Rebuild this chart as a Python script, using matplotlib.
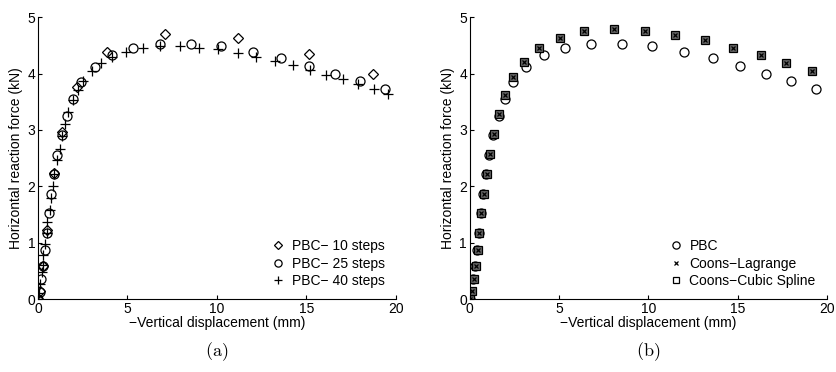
import matplotlib
matplotlib.use("Agg")
import matplotlib.pyplot as plt

plt.rcParams["font.family"] = ["Liberation Sans", "DejaVu Sans"]
plt.rcParams["mathtext.fontset"] = "cm"

# (a) PBC with different step counts
pbc10_x = [0, 0.12, 0.3, 0.5, 0.88, 1.32, 2.18, 3.86, 7.08, 11.18, 15.15, 18.73]
pbc10_y = [0, 0.15, 0.59, 1.22, 2.23, 2.96, 3.76, 4.39, 4.70, 4.63, 4.35, 3.99]

pbc25_x = [0, 0.09, 0.19, 0.28, 0.39, 0.5, 0.62, 0.75, 0.88, 1.08, 1.32, 1.64, 1.98,
           2.42, 3.17, 4.14, 5.31, 6.8, 8.54, 10.21, 12.0, 13.6, 15.15, 16.6, 18.0, 19.4]
pbc25_y = [0, 0.13, 0.35, 0.59, 0.87, 1.18, 1.52, 1.86, 2.21, 2.56, 2.91, 3.24, 3.55,
           3.85, 4.11, 4.32, 4.46, 4.53, 4.53, 4.48, 4.38, 4.27, 4.14, 3.99, 3.86, 3.72]

pbc40_x = [0, 0.05, 0.12, 0.2, 0.28, 0.3, 0.41, 0.5, 0.52, 0.65, 0.71, 0.84, 0.9, 1.06,
           1.21, 1.32, 1.49, 1.68, 1.96, 2.24, 2.52, 3.02, 3.54, 4.16, 4.94, 5.87, 6.8,
           7.92, 9.0, 10.07, 11.18, 12.2, 13.23, 14.26, 15.19, 16.12, 17.05, 17.9, 18.77, 19.57]
pbc40_y = [0, 0.1, 0.27, 0.48, 0.6, 0.78, 0.97, 1.17, 1.36, 1.58, 1.79, 2.01, 2.22, 2.47,
           2.66, 2.9, 3.11, 3.31, 3.53, 3.71, 3.86, 4.04, 4.18, 4.29, 4.39, 4.45, 4.48,
           4.48, 4.46, 4.43, 4.37, 4.30, 4.23, 4.15, 4.07, 3.98, 3.90, 3.81, 3.72, 3.63]

# (b) PBC vs Coons
pbc_x = pbc25_x
pbc_y = pbc25_y
coons_x = [0, 0.11, 0.24, 0.34, 0.43, 0.52, 0.63, 0.78, 0.95, 1.12, 1.36, 1.62, 1.96,
           2.41, 3.04, 3.88, 5.06, 6.41, 8.07, 9.79, 11.48, 13.18, 14.77, 16.3, 17.74, 19.16]
coons_y = [0, 0.14, 0.35, 0.59, 0.87, 1.18, 1.52, 1.86, 2.22, 2.57, 2.93, 3.28, 3.62,
           3.93, 4.21, 4.45, 4.63, 4.75, 4.79, 4.76, 4.69, 4.59, 4.46, 4.33, 4.19, 4.05]

fig = plt.figure(figsize=(8.36, 3.72), dpi=100)
ax1 = fig.add_axes([0.0455, 0.196, 0.428, 0.758])
ax2 = fig.add_axes([0.562, 0.196, 0.427, 0.758])

mk = dict(linestyle="none", color="k", markerfacecolor="none", markeredgewidth=0.9)
ax1.plot(pbc10_x, pbc10_y, marker="D", markersize=5.5, label="PBC\u2212 10 steps", **mk)
ax1.plot(pbc25_x, pbc25_y, marker="o", markersize=6.5, label="PBC\u2212 25 steps", **mk)
ax1.plot(pbc40_x, pbc40_y, marker="+", markersize=7, label="PBC\u2212 40 steps", **mk)

h_pbc, = ax2.plot(pbc_x, pbc_y, marker="o", markersize=6.5, label="PBC", **mk)
h_sq, = ax2.plot(coons_x, coons_y, marker="s", markersize=5.5, linestyle="none", color="k",
                 markerfacecolor="0.4", markeredgewidth=0.9, label="Coons\u2212Cubic Spline")
h_x, = ax2.plot(coons_x, coons_y, marker="x", markersize=3.5, label="Coons\u2212Lagrange", **mk)

for ax, tag in [(ax1, "(a)"), (ax2, "(b)")]:
    ax.set_xlim(0, 20)
    ax.set_ylim(0, 5)
    ax.set_xticks([0, 5, 10, 15, 20])
    ax.set_yticks([0, 1, 2, 3, 4, 5])
    ax.spines["top"].set_visible(False)
    ax.spines["right"].set_visible(False)
    ax.spines["left"].set_linewidth(0.8)
    ax.spines["bottom"].set_linewidth(0.8)
    ax.tick_params(direction="in", length=3, width=0.8, labelsize=10, pad=2)
    ax.set_xlabel("\u2212Vertical displacement (mm)", fontsize=10, labelpad=0)
    ax.set_ylabel("Horizontal reaction force (kN)", fontsize=10, labelpad=3)
    ax.text(0.5, -0.188, "$\\mathrm{" + tag + "}$", transform=ax.transAxes,
            ha="center", va="center", fontsize=13)

leg_kw = dict(loc="lower right", frameon=False, fontsize=10, handletextpad=0.4,
              handlelength=1.2, labelspacing=0.25, borderaxespad=0.4, markerscale=0.8)
ax1.legend(**leg_kw)
leg2 = ax2.legend([h_pbc, h_x, h_sq], ["PBC", "Coons\u2212Lagrange", "Coons\u2212Cubic Spline"], **leg_kw)
leg2.legend_handles[2].set_markerfacecolor("none")

fig.savefig("out.png", dpi=100)
